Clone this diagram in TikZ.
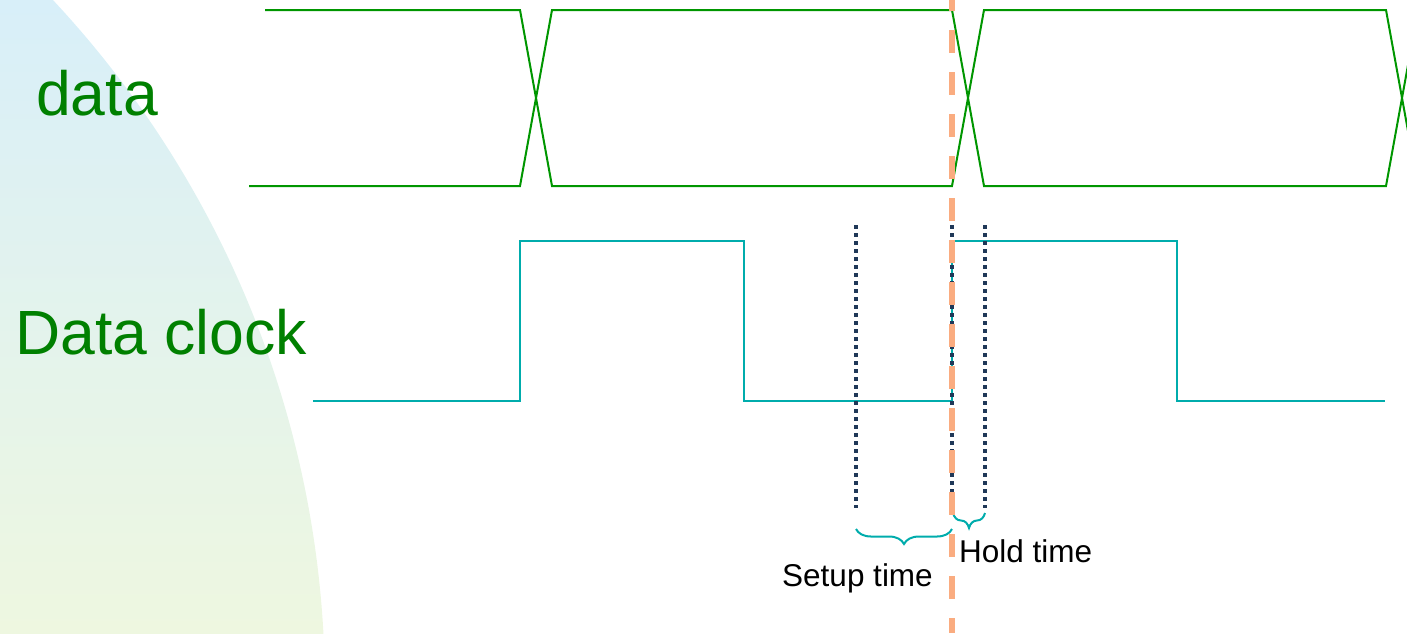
\documentclass[tikz,border=0pt]{standalone}
\usepackage{fontspec}
\setmainfont{Liberation Sans}
\usepackage{tikz}
\usetikzlibrary{positioning}
\usetikzlibrary{%
  calc,%
  decorations.pathreplacing%
}
\definecolor{lblgreen}{RGB}{0,128,0}
\definecolor{wavegreen}{RGB}{0,150,0}
\definecolor{clkteal}{RGB}{0,172,172}
\definecolor{dotblue}{RGB}{31,56,88}
\definecolor{edgeorange}{RGB}{250,172,128}
\definecolor{bgblue}{RGB}{216,239,249}
\definecolor{bggreen}{RGB}{238,247,224}
\tikzset{
  bigtext/.style={anchor=base west, inner sep=0pt, text=lblgreen, font=\fontsize{62.5}{72}\selectfont},
  smalltext/.style={anchor=base west, inner sep=0pt, font=\fontsize{31.5}{38}\selectfont},
  dataline/.style={wavegreen, line width=2pt, line join=miter},
  clkline/.style={clkteal, line width=2pt},
  dotline/.style={dotblue, line width=3.5pt, dash pattern=on 3.5pt off 4.5pt},
  timebrace/.style={clkteal, line width=2pt, decorate, decoration={brace, mirror, amplitude=15pt}},
  edgeline/.style={edgeorange, line width=6pt, dash pattern=on 23pt off 19pt, dash phase=12pt}
}

\begin{document}
\begin{tikzpicture}[x=1pt,y=-1pt]
\useasboundingbox (0,0) rectangle (1407,633);
\clip (0,0) rectangle (1407,633);

% background
\begin{scope}
\clip (-686,690) circle (1011);
\shade[top color=bgblue, bottom color=bggreen] (0,0) rectangle (1407,633);
\end{scope}

\node[bigtext] (dt) at (36,115) {data};
\node[bigtext] (dc) at (15,354) {Data clock};

% data
\draw[dataline] (265,10) -- (520,10) -- (552,186) -- (952,186) -- (984,10) -- (1386,10) -- (1418,186);
\draw[dataline] (249,186) -- (520,186) -- (552,10) -- (952,10) -- (984,186) -- (1386,186) -- (1418,10);

% clock
\draw[clkline] (313,401) -- (520,401) -- (520,241) -- (744,241) -- (744,401) -- (952,401)
  -- (952,241) -- (1177,241) -- (1177,401) -- (1385,401);

\draw[dotline] (856,225) -- (856,508);
\draw[dotline] (952,225) -- (952,508);
\draw[dotline] (985,225) -- (985,508);

\coordinate (s1) at (856,529);
\coordinate (s2) at (952,529);
\coordinate (h1) at (953,513);
\coordinate (h2) at (985,513);
\draw[timebrace] (s1) -- (s2);
\draw[timebrace] (h1) -- (h2);

\node[smalltext] (st) at (782,586) {Setup time};
\node[smalltext] (ht) at (959,562) {Hold time};

\draw[edgeline] (952,0) -- (952,633);
\end{tikzpicture}
\end{document}
